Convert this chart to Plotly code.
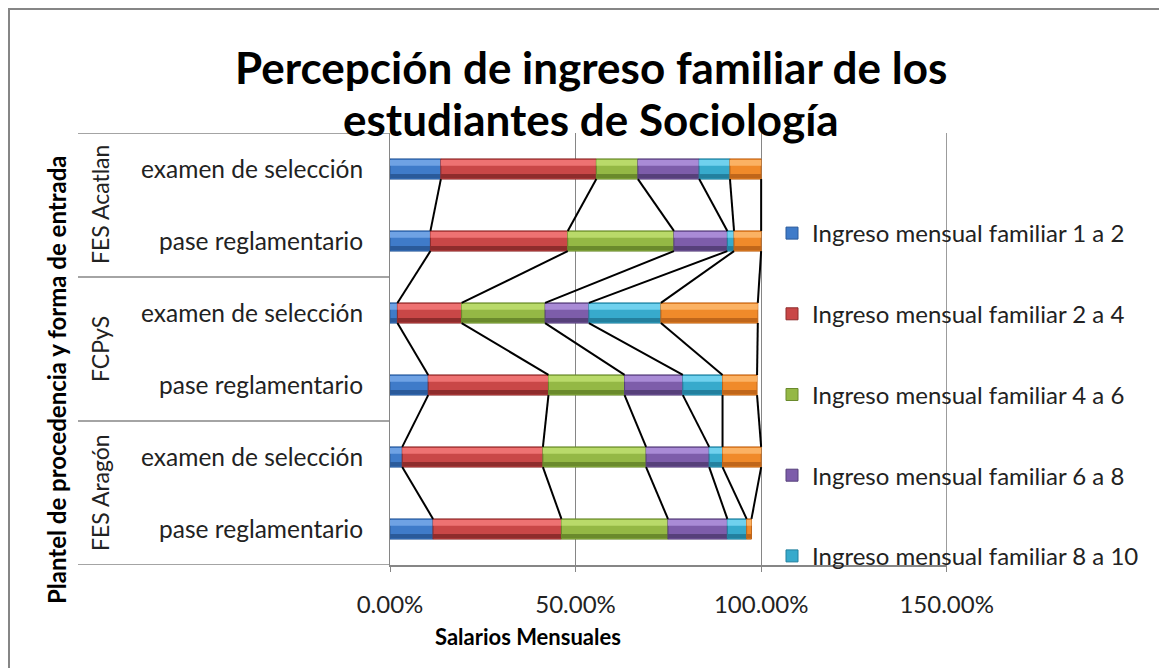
# Barras apiladas 100% con líneas de serie (estilo Excel)

import plotly.graph_objects as go
import numpy as np

plantel = ["FES Aragón", "FES Aragón", "FCPyS", "FCPyS", "FES Acatlan", "FES Acatlan"]
forma = ["pase reglamentario", "examen de selección", "pase reglamentario",
         "examen de selección", "pase reglamentario", "examen de selección"]

series = ["Ingreso mensual familiar 1 a 2", "Ingreso mensual familiar 2 a 4",
          "Ingreso mensual familiar 4 a 6", "Ingreso mensual familiar 6 a 8",
          "Ingreso mensual familiar 8 a 10", "Ingreso mensual familiar más de 10"]

s1 = [11.6, 3.3, 10.3, 2.0, 10.9, 13.7]
s2 = [34.6, 37.9, 32.4, 17.3, 37.0, 41.9]
s3 = [28.7, 27.8, 20.5, 22.5, 28.6, 11.2]
s4 = [16.0, 17.0, 15.7, 11.8, 14.4, 16.5]
s5 = [5.2, 3.6, 10.7, 19.4, 1.8, 8.3]
s6 = [1.3, 10.4, 9.3, 26.1, 7.3, 8.4]

colores = ["#3F7BC9", "#C94747", "#94B845", "#7D5DAA", "#37AACC", "#F08A2A"]
claros = ["#6FA2E4", "#EE7272", "#B9DA6A", "#A98BD6", "#70D1EE", "#FBB264"]
oscuros = ["#2A5A9A", "#8E2C2C", "#6A8A2C", "#56407A", "#23809E", "#C0661A"]

fuente = "Lato"
O = 8  # margen del <body> de la página
W, H = 1167 - O, 668 - O
L, R, T, B = 390, 947, 133, 565  # área de trazado (píxeles de la referencia)


def px(x):
    return (x - L) / (R - L)


def py(y):
    return (B - y) / (B - T)


valores = [np.array(s) / 100 for s in (s1, s2, s3, s4, s5, s6)]
ypos = np.arange(len(forma))
ancho = 0.28
acum = np.cumsum(valores, axis=0)
inicio = acum - np.array(valores)

fig = go.Figure()

# líneas de serie entre barras consecutivas
for k in range(len(series)):
    xs, ys = [], []
    for i in range(len(ypos) - 1):
        xs += [acum[k][i + 1], acum[k][i], None]
        ys += [ypos[i + 1] - ancho / 2, ypos[i] + ancho / 2, None]
    fig.add_trace(go.Scatter(x=xs, y=ys, mode="lines", line=dict(color="black", width=2),
                             showlegend=False, hoverinfo="skip"))

for k in range(len(series)):
    fig.add_trace(go.Bar(
        x=valores[k], base=inicio[k], y=ypos, orientation="h", name=series[k],
        width=ancho, offset=-ancho / 2,
        marker=dict(color=colores[k], line=dict(color=oscuros[k], width=1)),
        legendgroup=str(k), showlegend=(k < 5),
    ))
    # bisel: franja clara arriba y oscura abajo
    fig.add_trace(go.Bar(
        x=valores[k], base=inicio[k], y=ypos, orientation="h", width=0.08, offset=0.045,
        marker=dict(color=claros[k], line=dict(width=0)),
        legendgroup=str(k), showlegend=False, hoverinfo="skip",
    ))
    fig.add_trace(go.Bar(
        x=valores[k], base=inicio[k], y=ypos, orientation="h", width=0.06, offset=-ancho / 2 + 0.01,
        marker=dict(color=oscuros[k], line=dict(width=0)),
        legendgroup=str(k), showlegend=False, hoverinfo="skip",
    ))

# divisiones del eje de categorías
for yv in [-0.5, 1.5, 3.5, 5.5]:
    fig.add_shape(type="line", xref="paper", yref="y", x0=px(78), x1=0, y0=yv, y1=yv,
                  line=dict(color="#868686", width=1.5))
# línea de cuadrícula del 150 %
fig.add_shape(type="line", xref="x", yref="paper", x0=1.5, x1=1.5, y0=0, y1=1,
              line=dict(color="#868686", width=1), layer="below")

anot = []
for nombre, centro in [("FES Aragón", 0.5), ("FCPyS", 2.5), ("FES Acatlan", 4.5)]:
    anot.append(dict(text=nombre, xref="paper", yref="y", x=px(100), y=centro,
                     xanchor="center", yanchor="middle",
                     textangle=-90, showarrow=False, font=dict(size=23, color="#222")))
anot.append(dict(text="<b>Plantel de procedencia y forma de entrada</b>", xref="paper", yref="paper",
                 x=px(56), y=py(380), xanchor="center", yanchor="middle", textangle=-90,
                 showarrow=False, font=dict(size=24, color="black")))
anot.append(dict(text="<b>Salarios Mensuales</b>", xref="paper", yref="paper",
                 x=px(528), y=py(636), xanchor="center", yanchor="middle",
                 showarrow=False, font=dict(size=22, color="black")))
for linea, yc in [("<b>Percepción de ingreso familiar de los</b>", 67),
                  ("<b>estudiantes de Sociología</b>", 119)]:
    anot.append(dict(text=linea, xref="paper", yref="paper", x=px(591), y=py(yc),
                     xanchor="center", yanchor="middle", showarrow=False,
                     font=dict(size=44, color="black")))

# borde del gráfico
fig.add_shape(type="rect", xref="paper", yref="paper", x0=px(9), x1=px(1190), y0=py(690), y1=py(9),
              line=dict(color="#868686", width=2))

fig.update_layout(
    width=W, height=H,
    barmode="overlay",
    paper_bgcolor="white", plot_bgcolor="white",
    margin=dict(l=L - O, r=W - (R - O), t=T - O, b=H - (B - O)),
    font=dict(family=fuente, color="#222"),
    xaxis=dict(range=[0, 1.5008], dtick=0.5, tick0=0, tickformat=".2%",
               showgrid=True, gridcolor="#868686", gridwidth=1, zeroline=False,
               showline=True, linecolor="#868686", linewidth=1.5,
               ticks="outside", ticklen=5, tickcolor="#868686", ticklabelstandoff=12,
               tickfont=dict(size=24, color="#222")),
    yaxis=dict(range=[-0.5, 5.5], tickvals=ypos, ticktext=forma, showgrid=False, zeroline=False,
               showline=True, linecolor="#868686", linewidth=1, ticks="",
               ticklabelstandoff=21, tickfont=dict(size=24.5, color="#222")),
    legend=dict(x=px(772), y=py(211), xanchor="left", yanchor="top",
                bgcolor="rgba(0,0,0,0)", font=dict(size=24, color="#222"),
                traceorder="grouped", tracegroupgap=46.5),
    annotations=anot,
)

fig.write_html("out.html")
